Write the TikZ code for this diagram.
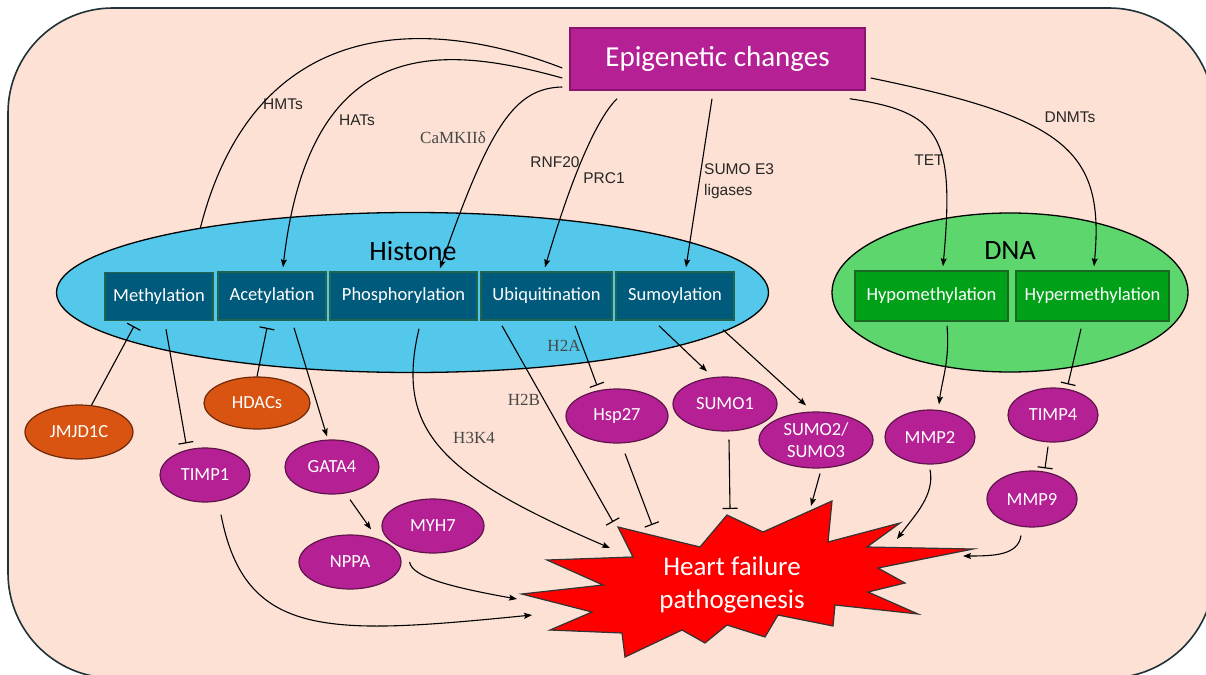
\documentclass[tikz,border=0pt]{standalone}
\usepackage{fontspec}
\setmainfont{Carlito}
\newfontfamily\arialf{Liberation Sans}
\newfontfamily\timesf{Liberation Serif}
\usetikzlibrary{shapes.geometric,arrows.meta,calc}
\definecolor{bgpeach}{RGB}{253,225,212}
\definecolor{frameline}{RGB}{30,50,55}
\definecolor{purp}{RGB}{181,32,148}
\definecolor{purpline}{RGB}{95,20,75}
\definecolor{orng}{RGB}{216,84,16}
\definecolor{orngline}{RGB}{110,40,10}
\definecolor{histblue}{RGB}{84,200,235}
\definecolor{dnagreen}{RGB}{94,214,110}
\definecolor{tealbox}{RGB}{0,90,124}
\definecolor{tealline}{RGB}{35,100,80}
\definecolor{greenbox}{RGB}{0,160,24}
\definecolor{greenline}{RGB}{25,105,35}
\definecolor{epiline}{RGB}{140,20,110}
\definecolor{starred}{RGB}{255,0,0}
\tikzset{
  hbox/.style={draw=tealline, line width=1.5pt, fill=tealbox, text=white, minimum height=48pt, inner sep=0pt, font=\fontsize{18.5}{20}\selectfont},
  dbox/.style={draw=greenline, line width=1.5pt, fill=greenbox, text=white, minimum height=50pt, inner sep=0pt, font=\fontsize{18.5}{20}\selectfont},
  pell/.style={ellipse, draw=purpline, line width=1.2pt, fill=purp, text=white, inner sep=0pt, minimum width=90pt, minimum height=54pt, align=center, font=\fontsize{18.5}{22}\selectfont},
  oell/.style={ellipse, draw=orngline, line width=1.2pt, fill=orng, text=white, inner sep=0pt, minimum height=53pt, font=\fontsize{18.5}{22}\selectfont},
  bigell/.style={ellipse, draw=black, line width=1.3pt, inner sep=0pt},
  biglbl/.style={font=\fontsize{28}{30}\selectfont, text=black},
  lbl/.style={font=\arialf\fontsize{15.5}{21}\selectfont, text=black!85, inner sep=0pt},
  tlbl/.style={font=\timesf\fontsize{17}{19}\selectfont, text=black!72, inner sep=0pt},
  conn/.style={line width=1.1pt, black},
  arr/.style={conn, -{Stealth[length=8pt,width=6pt,inset=1.5pt]}},
  inh/.style={conn, -{Bar[width=15pt,line width=1.2pt]}},
}
\begin{document}
\begin{tikzpicture}[x=1pt,y=-1pt]
\clip (0,0) rectangle (1206,674);
\fill[white] (0,0) rectangle (1206,674);
% outer frame
\draw[fill=bgpeach, draw=frameline, line width=1.6pt, rounded corners=105pt] (8,8) rectangle (1214,678);

% big ellipses
\node[bigell, fill=histblue, minimum width=712pt, minimum height=160pt] (histone) at (412.5,292.5) {};
\node[bigell, fill=dnagreen, minimum width=356pt, minimum height=159pt] (dna) at (1010,292.5) {};
\node[biglbl] (histlbl) at (413,251) {Histone};
\node[biglbl] (dnalbl) at (1010,251) {DNA};

% top box
\node[draw=epiline, line width=1.5pt, fill=purp, text=white, minimum width=295pt, minimum height=62pt, inner sep=0pt, font=\fontsize{29}{31}\selectfont] (epi) at (717.5,59) {Epigenetic changes};

% histone boxes
\node[hbox, minimum width=108pt] (meth) at (159,296.5) {Methylation};
\node[hbox, minimum width=108pt] (acet) at (272,296) {Acetylation};
\node[hbox, minimum width=147pt] (phos) at (403.5,296) {Phosphorylation};
\node[hbox, minimum width=131pt] (ubiq) at (546.5,296) {Ubiquitination};
\node[hbox, minimum width=118pt] (sumo) at (675,296) {Sumoylation};
% DNA boxes
\node[dbox, minimum width=153pt] (hypo) at (931.5,296) {Hypomethylation};
\node[dbox, minimum width=153pt] (hyper) at (1092.5,296) {Hypermethylation};

% star
\draw[fill=starred, draw=black!80, line width=1.2pt, line join=miter]
 (521.7,594) -- (603,585) -- (547,560) -- (633,557) -- (618,527) -- (700,547) -- (727,515) -- (763,532) -- (832,501) -- (828,542) -- (900,523) -- (867,547) -- (973,549) -- (878,568) -- (905,583) -- (868,592) -- (918,614) -- (835,605) -- (833,626) -- (778,615) -- (765,637) -- (727,625) -- (705,643) -- (682,630) -- (625,657) -- (622,633) -- (550,630) -- (592,612) -- cycle;
\node[text=white, align=center, font=\fontsize{27}{33}\selectfont] (hf) at (732,585) {Heart failure\\pathogenesis};

% small ellipses
\node[oell, minimum width=108pt, minimum height=54pt] (jmj) at (79,432) {JMJD1C};
\node[oell, minimum width=106pt, minimum height=52pt] (hdac) at (257,403) {HDACs};
\node[pell] (timp1) at (205,475) {TIMP1};
\node[pell, minimum width=94pt] (gata4) at (332,467) {GATA4};
\node[pell, minimum width=102pt] (myh7) at (433,526) {MYH7};
\node[pell, minimum width=102pt] (nppa) at (350,562) {NPPA};
\node[pell, minimum width=102pt] (hsp) at (617,416) {Hsp27};
\node[pell, minimum width=104pt] (sumo1) at (725,404) {SUMO1};
\node[pell, minimum width=114pt, minimum height=56pt] (s23) at (816,440) {SUMO2/\\SUMO3};
\node[pell] (mmp2) at (930,437) {MMP2};
\node[pell] (timp4) at (1053,415) {TIMP4};
\node[pell, minimum height=56pt] (mmp9) at (1032,499) {MMP9};

% labels
\node[lbl] (lhmt) at (283,104) {HMTs};
\node[lbl] (lhat) at (357,120) {HATs};
\node[tlbl] (lcam) at (453,138) {CaMKIIδ};
\node[lbl] (lrnf) at (555,162) {RNF20};
\node[lbl] (lprc) at (604,178) {PRC1};
\node[lbl, align=left, anchor=west] (lsumo) at (704,181) {SUMO E3\\ligases};
\node[lbl] (ltet) at (929,160) {TET};
\node[lbl] (ldnmt) at (1070,117) {DNMTs};
\node[tlbl] (lh2a) at (564,346) {H2A};
\node[tlbl] (lh2b) at (524,400) {H2B};
\node[tlbl] (lh3k4) at (474,438) {H3K4};

% connectors from Epigenetic changes
\draw[conn] ($(epi.west)+(-7,9)$) .. controls (425,15) and (255,15) .. (histone.163);
\draw[arr] ($(epi.west)+(-7,19)$) .. controls (440,44) and (310,34) .. ($(acet.north)+(11,-4)$);
\draw[arr] ($(epi.west)+(-7,28)$) .. controls (515,88) and (490,125) .. ($(phos.north)+(36.5,-3)$);
\draw[arr] ($(epi.south)+(-100.5,8)$) .. controls (600,115) and (575,165) .. ($(ubiq.north)+(-1.5,-4)$);
\draw[arr] ($(epi.south)+(-5.5,8)$) -- ($(sumo.north)+(11,-4)$);
\draw[arr] ($(epi.south east)+(-16,8)$) .. controls (940,112) and (955,135) .. ($(hypo.north)+(11.5,-4)$);
\draw[arr] ($(epi.east)+(5,19)$) .. controls (1065,118) and (1105,150) .. ($(hyper.north)+(1.5,-4)$);

% histone side
\draw[inh] (jmj.65) -- ($(meth.south)+(-25,5)$);
\draw[inh] ($(meth.south)+(7,8)$) -- ($(timp1.north)+(-19,-4)$);
\draw[inh] (hdac.north) -- ($(acet.south)+(-5,7)$);
\draw[arr] ($(acet.south)+(22,7)$) -- ($(gata4.north)+(-5,-3)$);
\draw[arr] ($(gata4.south)+(18,5)$) -- ($(nppa.north)+(21,-5)$);
\draw[arr] ($(nppa.east)+(8,0)$) .. controls (412,577) and (450,587) .. ($(hf)+(-215,14)$);
\draw[arr] ($(timp1.south)+(16,12)$) .. controls (245,640) and (330,635) .. ($(hf)+(-200,30)$);
\draw[arr] ($(phos.south)+(15.5,8)$) .. controls (395,430) and (440,475) .. ($(hf)+(-122,-37)$);
\draw[inh] ($(ubiq.south)+(-44.5,5)$) -- ($(hf)+(-119,-63)$);
\draw[inh] ($(ubiq.south)+(28.5,5)$) -- ($(hsp.north)+(-20,-3)$);
\draw[inh] ($(hsp.south)+(8,10)$) -- ($(hf)+(-80,-60)$);
\draw[arr] ($(sumo.south)+(-16,5)$) -- ($(sumo1.north)+(-18,-5)$);
\draw[arr] ($(sumo.south)+(48,9)$) -- ($(s23.north)+(-10,-6)$);
\draw[inh] ($(sumo1.south)+(4,8)$) -- ($(hf)+(-2,-76)$);
\draw[arr] ($(s23.south)+(4,5)$) -- ($(hf)+(79,-79)$);

% DNA side
\draw[arr] ($(hypo.south)+(15.5,4)$) .. controls (950,360) and (942,380) .. ($(mmp2.north)+(9,-5)$);
\draw[inh] ($(hyper.south)+(-11.5,7)$) -- ($(timp4.north)+(15,-3)$);
\draw[inh] ($(timp4.south)+(-5,4)$) -- ($(mmp9.north)+(13,-2)$);
\draw[arr] ($(mmp2.south)+(0,5)$) .. controls (935,495) and (915,515) .. ($(hf)+(165,-46)$);
\draw[arr] ($(mmp9.south)+(-11,8)$) .. controls (1018,555) and (995,556) .. ($(hf)+(231,-29)$);
\end{tikzpicture}
\end{document}
